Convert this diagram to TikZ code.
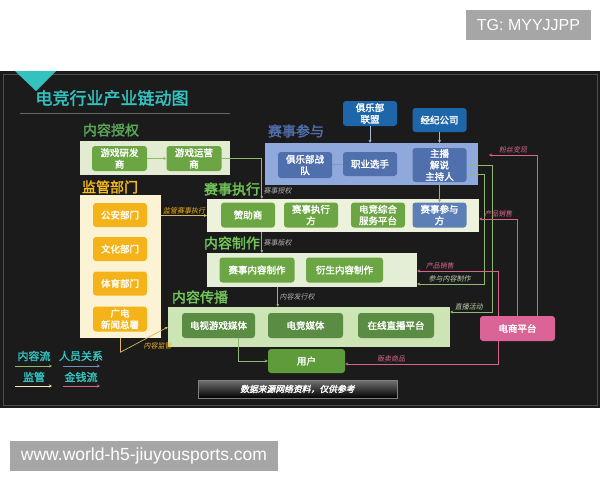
\documentclass[tikz,border=0pt]{standalone}
\usepackage{fontspec}
\newfontfamily\cjk[AutoFakeBold=2,AutoFakeSlant=0.2]{Noto Sans CJK SC}
\newfontfamily\wmfont{Liberation Sans}
\usetikzlibrary{arrows.meta}

\definecolor{bgdark}{HTML}{1B1B1B}
\definecolor{teal}{HTML}{33C2C0}
\definecolor{lightgreen}{HTML}{E3ECD2}
\definecolor{execgreen}{HTML}{EDF2DD}
\definecolor{makegreen}{HTML}{E4EED6}
\definecolor{spreadgreen}{HTML}{CDE5B5}
\definecolor{regcream}{HTML}{FCF2D4}
\definecolor{joinblue}{HTML}{8FA9DC}
\definecolor{boxgreen}{HTML}{6CA544}
\definecolor{boxdkgreen}{HTML}{5A8D43}
\definecolor{usergreen}{HTML}{5D9B3B}
\definecolor{boxblue}{HTML}{4F70AD}
\definecolor{leagueblue}{HTML}{1E66AA}
\definecolor{particblue}{HTML}{5B7FB6}
\definecolor{amber}{HTML}{F5B31A}
\definecolor{shoppink}{HTML}{DA6496}
\definecolor{flowline}{HTML}{90B870}
\definecolor{peopleline}{HTML}{A8B8D8}
\definecolor{regline}{HTML}{D9B95A}
\definecolor{moneyline}{HTML}{D9658F}

\tikzset{
  panel/.style={rectangle, inner sep=0pt, fill=#1},
  box/.style={rectangle, rounded corners=3pt, fill=#1, text=white, align=center,
    inner sep=1pt, font=\cjk\bfseries\fontsize{9.5}{11.5}\selectfont},
  title/.style={text=#1, font=\cjk\bfseries\fontsize{14}{16}\selectfont, inner sep=0pt},
  lbl/.style={text=#1, font=\cjk\itshape\fontsize{7}{8}\selectfont, inner sep=1.5pt},
  flow/.style={draw=flowline, line width=0.7pt, -{Stealth[length=3pt,width=3pt]}},
  people/.style={draw=peopleline, line width=0.7pt, -{Stealth[length=3pt,width=3pt]}},
  regul/.style={draw=regline, line width=0.7pt, -{Stealth[length=3pt,width=3pt]}},
  money/.style={draw=moneyline, line width=0.7pt, -{Stealth[length=3pt,width=3pt]}},
  legend/.style={text=teal, font=\cjk\bfseries\fontsize{11}{13}\selectfont, inner sep=0pt},
  watermark/.style={fill=black!35, text=white, font=\wmfont\fontsize{16}{18}\selectfont,
    inner sep=0pt, minimum height=30pt}
}

\begin{document}
\begin{tikzpicture}[x=1pt, y=-1pt]
    \useasboundingbox (0,0) rectangle (600,480);

    \node [watermark, minimum width=125pt] (tg) at (528.5,25) {TG: MYYJJPP};

    \fill [bgdark] (0,71) rectangle (600,408);
    \draw [black!70!white, line width=0.6pt] (3,74) rectangle (597,405);
    \fill [teal] (15,71) -- (56,71) -- (36,91) -- cycle;
    \node [text=teal, font=\cjk\bfseries\fontsize{17}{19}\selectfont, inner sep=0pt]
       (head) at (112,98) {电竞行业产业链动图};
    \draw [black!60!white, line width=0.6pt] (20,113) -- (230,113);

    % panels
    \node [panel=lightgreen, minimum width=150pt, minimum height=34pt] (pLicense) at (155,158) {};
    \node [panel=joinblue, minimum width=213pt, minimum height=42pt] (pJoin) at (371.5,164) {};
    \node [panel=execgreen, minimum width=272pt, minimum height=33pt] (pExec) at (343,215.5) {};
    \node [panel=regcream, minimum width=81pt, minimum height=143pt] (pRegul) at (120.5,266.5) {};
    \node [panel=makegreen, minimum width=210pt, minimum height=34pt] (pMake) at (312,270) {};
    \node [panel=spreadgreen, minimum width=282pt, minimum height=40pt] (pSpread) at (309,327) {};

    \node [title=green!30!gray] (tLicense) at (111,130) {内容授权};
    \node [title=boxblue] (tJoin) at (296,131) {赛事参与};
    \node [title=amber!90!yellow] (tRegul) at (110,187) {监管部门};
    \node [title=flowline!80!green] (tExec) at (232,189) {赛事执行};
    \node [title=flowline!80!green] (tMake) at (232,243) {内容制作};
    \node [title=flowline!80!green] (tSpread) at (200,297) {内容传播};

    % boxes
    \node [box=boxgreen, minimum width=55pt, minimum height=25pt] (dev) at (119.5,158.5) {游戏研发\\商};
    \node [box=boxgreen, minimum width=55pt, minimum height=25pt] (ops) at (194,158.5) {游戏运营\\商};

    \node [box=leagueblue, minimum width=54pt, minimum height=25pt] (league) at (370,113.5) {俱乐部\\联盟};
    \node [box=leagueblue, minimum width=54pt, minimum height=24pt] (agency) at (439.5,120) {经纪公司};
    \node [box=boxblue, minimum width=54pt, minimum height=26pt] (team) at (305,165) {俱乐部战\\队};
    \node [box=boxblue, minimum width=54pt, minimum height=24pt] (player) at (370,164) {职业选手};
    \node [box=boxblue, minimum width=54pt, minimum height=34pt] (host) at (439.5,165) {主播\\解说\\主持人};

    \node [box=boxgreen, minimum width=54pt, minimum height=25pt] (sponsor) at (248,215) {赞助商};
    \node [box=boxgreen, minimum width=54pt, minimum height=25pt] (execr) at (311,215) {赛事执行\\方};
    \node [box=boxgreen, minimum width=54pt, minimum height=25pt] (service) at (378,215) {电竞综合\\服务平台};
    \node [box=particblue, minimum width=54pt, minimum height=25pt] (partic) at (439.5,215) {赛事参与\\方};

    \node [box=amber, minimum width=54pt, minimum height=24pt] (police) at (120,215) {公安部门};
    \node [box=amber, minimum width=54pt, minimum height=24pt] (culture) at (120,249) {文化部门};
    \node [box=amber, minimum width=54pt, minimum height=24pt] (sport) at (120,283.5) {体育部门};
    \node [box=amber, minimum width=54pt, minimum height=25pt] (radio) at (120,319) {广电\\新闻总署};

    \node [box=boxgreen, minimum width=75pt, minimum height=25pt] (mkMatch) at (257,270) {赛事内容制作};
    \node [box=boxgreen, minimum width=77pt, minimum height=25pt] (mkDeriv) at (344.5,270) {衍生内容制作};

    \node [box=boxdkgreen, minimum width=73pt, minimum height=25pt] (tvMedia) at (218.5,325.5) {电视游戏媒体};
    \node [box=boxdkgreen, minimum width=75pt, minimum height=25pt] (esMedia) at (305.5,325.5) {电竞媒体};
    \node [box=boxdkgreen, minimum width=76pt, minimum height=25pt] (live) at (396,325.5) {在线直播平台};
    \node [box=usergreen, minimum width=77pt, minimum height=24pt] (user) at (306.5,361) {用户};

    \node [box=shoppink, minimum width=75pt, minimum height=25pt] (shop) at (517.5,328.5) {电商平台};

    % connectors
    \draw [flow] (dev) -- (ops);
    \draw [flow] (ops.east) -| node [lbl=black!30!white, pos=0.9, right] {赛事授权}
        ([xshift=55pt]pExec.north west);
    \draw [people] (league.south) -- (league.south |- pJoin.north);
    \draw [people] (agency.south) -- (agency.south |- pJoin.north);
    \draw [people, draw=boxblue!70!white] (player) -- (team);
    \draw [flow] (host.south) -- (partic.north);
    \draw [regul] (pExec.west -| pRegul.east) -- node [lbl=amber, above] {监管赛事执行} (pExec.west);
    \draw [flow] ([xshift=55pt]pExec.south west) -- node [lbl=black!30!white, right] {赛事版权}
        ([xshift=55pt]pExec.south west |- pMake.north);
    \draw [flow] ([xshift=71pt]pMake.south west) -- node [lbl=black!30!white, right] {内容发行权}
        ([xshift=71pt]pMake.south west |- pSpread.north);
    \draw [regul] (pRegul.south) -- ++(0,14) -- node [lbl=amber, pos=0.45, below right] {内容监管}
        (pSpread.west);
    \draw [flow] ([xshift=20pt]tvMedia.south) |- (user.west);
    \draw [flow] (host.east) -- ++(26,0) |- node [lbl=flowline!60!white, pos=0.78, above] {直播活动}
        ([yshift=15pt]pSpread.east);
    \draw [flow] ([yshift=-9pt]host.east) -- ++(18,0) |- node [lbl=flowline!60!white, pos=0.76, above] {参与内容制作}
        ([yshift=-14pt]pMake.east);

    \coordinate (fan) at (489,155);
    \draw [money] ([xshift=19.5pt]shop.north) |- node [lbl=moneyline, pos=0.75, above] {粉丝变现} (fan);
    \draw [money] (shop.north) |- node [lbl=moneyline, pos=0.75, above] {产品销售}
        ([yshift=-3.5pt]pExec.east);
    \draw [money] ([xshift=-19.5pt]shop.north) |- node [lbl=moneyline, pos=0.86, above] {产品销售}
        ([yshift=-1pt]pMake.east);
    \draw [money] ([xshift=-19.5pt]shop.south) |- node [lbl=moneyline, pos=0.85, above] {贩卖商品}
        ([yshift=-3pt]user.east);

    % legend
    \node [legend] (lgFlow) at (34,356) {内容流};
    \node [legend] (lgPeople) at (81,356) {人员关系};
    \node [legend] (lgReg) at (34,377) {监管};
    \node [legend] (lgMoney) at (81,377) {金钱流};
    \coordinate (lgA) at (15,366);   \coordinate (lgB) at (52,366);
    \coordinate (lgC) at (63,366);   \coordinate (lgD) at (100,366);
    \coordinate (lgE) at (15,386);   \coordinate (lgF) at (52,386);
    \coordinate (lgG) at (63,386);   \coordinate (lgH) at (100,386);
    \draw [flow] (lgA) -- (lgB);
    \draw [people, draw=boxblue!80!white] (lgC) -- (lgD);
    \draw [regul, draw=regcream!80!amber] (lgE) -- (lgF);
    \draw [money] (lgG) -- (lgH);

    % source banner
    \shade [top color=black!55!white, bottom color=black, draw=black!50!white, line width=0.6pt]
        (198,380) rectangle (397,398);
    \node [text=white, font=\cjk\bfseries\itshape\fontsize{8.8}{10}\selectfont, inner sep=0pt]
        (source) at (297.5,389) {数据来源网络资料，仅供参考};

    \node [watermark, minimum width=268pt, font=\wmfont\fontsize{17.5}{19}\selectfont] (site) at (144,456) {www.world-h5-jiuyousports.com};
\end{tikzpicture}
\end{document}
